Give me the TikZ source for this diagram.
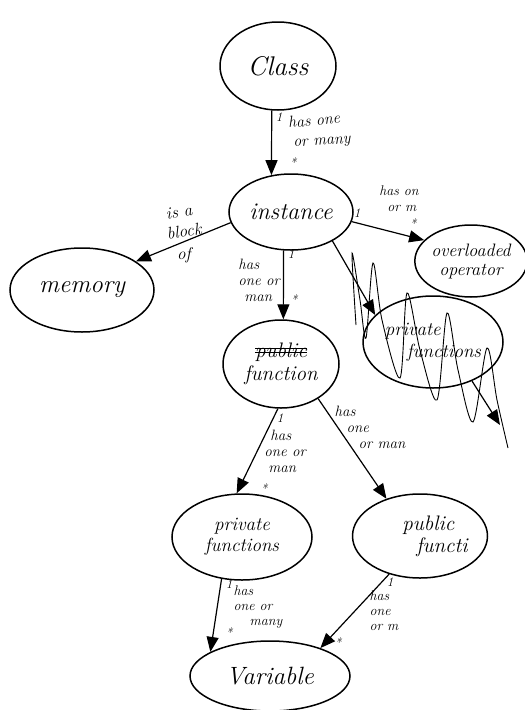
\documentclass[tikz,border=0pt]{standalone}
\usetikzlibrary{shapes.geometric, arrows.meta}
\newcommand\strk[1]{\setbox0=\hbox{#1}\leavevmode\rlap{\copy0}\rule[0.22em]{\wd0}{0.07em}\llap{\rule[0.4em]{\wd0}{0.07em}}}
\begin{document}
\begin{tikzpicture}[x=1pt,y=-1pt,
 ent/.style={draw, ellipse, line width=1.5pt, inner sep=0pt, align=center, font=\fontsize{20}{21}\selectfont\itshape},
 arr/.style={line width=1.2pt, -{Triangle[length=15pt,width=12pt]}},
 lbl/.style={inner sep=0pt, align=left, font=\fontsize{15}{16}\selectfont\itshape},
 mult/.style={inner sep=0pt, font=\fontsize{13}{13}\selectfont\itshape},
 scrib/.style={line width=0.9pt}]
\useasboundingbox (0,0) rectangle (525,710);

% entities
\node[ent, minimum width=116pt, minimum height=88pt, font=\fontsize{27}{27}\selectfont\itshape] (class) at (278,66) {Class};
\node[ent, minimum width=124pt, minimum height=76pt, font=\fontsize{24}{24}\selectfont\itshape] (instance) at (291,212) {instance};
\node[ent, minimum width=144pt, minimum height=84pt, font=\fontsize{25}{25}\selectfont\itshape] (memory) at (82,290) {memory};
\node[ent, minimum width=102pt, minimum height=72pt, font=\fontsize{18}{19}\selectfont\itshape] (overloaded) at (471,261) {overloaded\\operator};
\node[ent, align=left, minimum width=140pt, minimum height=92pt, font=\fontsize{19}{22}\selectfont\itshape] (pfr) at (433,342) {private\\\hspace*{22pt}functions};
\node[ent, minimum width=116pt, minimum height=88pt, font=\fontsize{21}{23}\selectfont\itshape] (function) at (281,364) {\strk{public}\\function};
\node[ent, minimum width=140pt, minimum height=86pt, font=\fontsize{19}{21}\selectfont\itshape] (pfl) at (242,537) {private\\functions};
\node[ent, align=left, minimum width=120pt, minimum height=84pt, font=\fontsize{21}{22}\selectfont\itshape] (pfb) at (420,536) {\hspace*{30pt}public\\\hspace*{44pt}functi};
\node[ent, minimum width=160pt, minimum height=70pt, font=\fontsize{25}{25}\selectfont\itshape] (variable) at (270,676) {Variable};

% connectors
\draw[arr] (class.262) -- (instance.118);
\draw[arr] (instance.190) -- (memory.28);
\draw[arr] (instance.-9) -- (overloaded.156);
\draw[arr] (instance.259.5) -- (function.87);
\draw[arr] (instance.-35) -- (pfr.155);
\coordinate (dang) at (500,425);
\draw[arr] (pfr.-45) -- (dang);
\draw[arr] (function.266) -- (pfl.97);
\draw[arr] (function.-43) -- (pfb.132);
\draw[arr] (pfl.244) -- (variable.158);
\draw[arr] (pfb.231.5) -- (variable.29);

% labels
\node[lbl, font=\fontsize{16}{16}\selectfont\itshape, rotate=5] (l1x) at (314,120) {has one};
\node[lbl, font=\fontsize{16}{16}\selectfont\itshape, rotate=4] (l1y) at (322,143) {or many};
\node[mult] (l1a) at (279,117) {1};
\node[mult] (l1b) at (293,163) {*};
\node[lbl, font=\fontsize{17}{17}\selectfont\itshape, rotate=8] (l2x) at (179,212) {is a};
\node[lbl, font=\fontsize{17}{17}\selectfont\itshape, rotate=8] (l2y) at (184,231) {block};
\node[lbl, font=\fontsize{17}{17}\selectfont\itshape] (l2z) at (184,255) {of};
\node[lbl, font=\fontsize{14}{16}\selectfont\itshape] (l3) at (399,199) {has on\\\hspace*{8pt}or m};
\node[mult] (l3a) at (357,213) {1};
\node[mult] (l3b) at (413,224) {*};
\node[lbl] (l4) at (259,280) {has\\one or\\\hspace*{6pt}man};
\node[mult] (l4a) at (291,254) {1};
\node[mult] (l4b) at (294,300) {*};
\node[lbl] (l7) at (285,451) {\hspace*{6pt}has\\one or\\\hspace*{4pt}man};
\node[mult] (l7a) at (280,418) {1};
\node[mult] (l7b) at (264,489) {*};
\node[lbl] (l8) at (370,427) {has\\\hspace*{12pt}one\\\hspace*{24pt}or man};
\node[lbl, font=\fontsize{14}{15}\selectfont\itshape] (l9) at (258,607) {has\\one or\\\hspace*{16pt}many};
\node[mult] (l9a) at (229,584) {1};
\node[mult] (l9b) at (229,633) {*};
\node[lbl, font=\fontsize{14}{15}\selectfont\itshape] (l10) at (384,611) {has\\one\\or m};
\node[mult] (l10a) at (390,582) {1};
\node[mult] (l10b) at (338,643) {*};

% scribble over the right-hand private functions
\draw[scrib] plot[smooth, tension=0.5] coordinates {(356,325) (352,253) (360,300) (366,338) (373,263) (382,320) (400,378) (407,293) (420,350) (437,400) (447,313) (458,370) (473,422) (487,348) (497,400) (508,448)};
\end{tikzpicture}
\end{document}
